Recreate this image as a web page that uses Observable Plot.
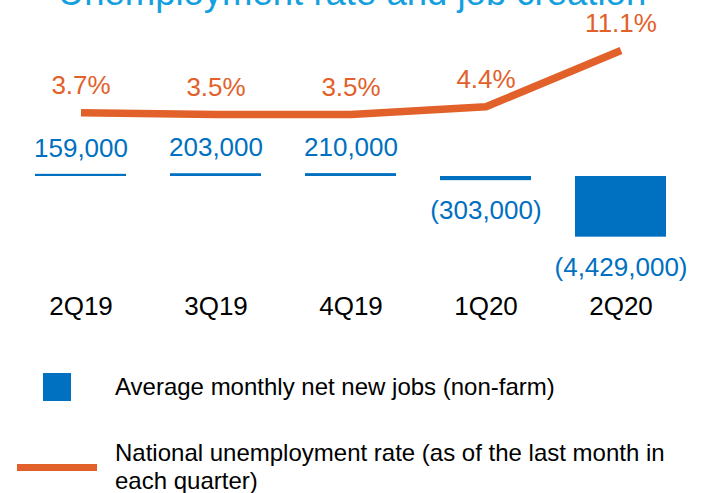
<!DOCTYPE html>
<html>
<head>
<meta charset="utf-8">
<script src="https://cdn.jsdelivr.net/npm/d3@7"></script>
<script src="https://cdn.jsdelivr.net/npm/@observablehq/plot@0.6"></script>
<style>
  body { margin: 0; background: #fff; }
  #wrap { position: relative; width: 704px; height: 493px; overflow: hidden; font-family: "Liberation Sans", Arial, sans-serif; }
  #wrap svg { position: absolute; left: 0; top: 0; background: transparent; }
  .title { position: absolute; left: 0; width: 704px; top: -25.5px; text-align: center; font-size: 36.5px; line-height: 36px; color: #14A0DE; white-space: nowrap; }
  .lg { position: absolute; font-size: 24px; line-height: 28px; color: #000; }
</style>
</head>
<body>
<div id="wrap">
  <div class="title">Unemployment rate and job creation</div>
</div>
<script>
const quarters = ["2Q19", "3Q19", "4Q19", "1Q20", "2Q20"];
const jobs = [159000, 203000, 210000, -303000, -4429000];
const rates = [3.7, 3.5, 3.5, 4.4, 11.1];
const legendLabels = ["Average monthly net new jobs (non-farm)", "National unemployment rate (as of the last month in each quarter)"];

const BLUE = "#0070C0";
const ORANGE = "#E2612A";
const FONT = "Liberation Sans, Arial, sans-serif";

const rows = quarters.map((q, i) => ({q, jobs: jobs[i], rate: rates[i]}));
const fmtJobs = v => v < 0 ? `(${d3.format(",")(-v)})` : d3.format(",")(v);

const common = {
  width: 704, height: 330,
  marginLeft: 33, marginRight: 35, marginTop: 0, marginBottom: 40,
  style: {fontFamily: FONT, background: "transparent", overflow: "visible"}
};
const xBand = {type: "band", domain: quarters, paddingInner: 0.3235, paddingOuter: 0, label: null};

const bars = Plot.plot({
  ...common,
  x: {...xBand},
  y: {domain: [-8321000, 12847000], axis: null},
  marks: [
    Plot.barY(rows, {x: "q", y: "jobs", fill: BLUE}),
    Plot.text(rows, {filter: d => d.jobs >= 0, x: "q", y: "jobs", text: d => fmtJobs(d.jobs), dy: -26, fontSize: 26, fill: BLUE}),
    Plot.text(rows, {filter: d => d.jobs < 0, x: "q", y: "jobs", text: d => fmtJobs(d.jobs), dy: 30, fontSize: 26, fill: BLUE}),
    Plot.axisX({tickSize: 0, tickPadding: 6, fontSize: 26, fill: "#000", label: null})
  ]
});

const line = Plot.plot({
  ...common,
  x: {...xBand, axis: null},
  y: {domain: [-17.44, 17.04], axis: null},
  marks: [
    Plot.line(rows, {x: "q", y: "rate", stroke: ORANGE, strokeWidth: 7.5, strokeLinecap: "butt", strokeLinejoin: "miter"}),
    Plot.text(rows, {x: "q", y: "rate", text: d => d.rate.toFixed(1) + "%", dy: -27, fontSize: 26, fill: ORANGE})
  ]
});

const wrap = document.getElementById("wrap");
wrap.appendChild(bars);
wrap.appendChild(line);

// legend
const sq = document.createElement("div");
sq.style.cssText = `position:absolute;left:43px;top:373px;width:28px;height:28px;background:${BLUE}`;
wrap.appendChild(sq);
const ln = document.createElement("div");
ln.style.cssText = `position:absolute;left:17px;top:464px;width:80px;height:7px;background:${ORANGE}`;
wrap.appendChild(ln);
const t1 = document.createElement("div");
t1.className = "lg";
t1.style.cssText = "left:115px;top:373px;white-space:nowrap";
t1.textContent = legendLabels[0];
wrap.appendChild(t1);
const t2 = document.createElement("div");
t2.className = "lg";
t2.style.cssText = "left:115px;top:439px;width:580px";
t2.textContent = legendLabels[1];
wrap.appendChild(t2);
</script>
</body>
</html>
